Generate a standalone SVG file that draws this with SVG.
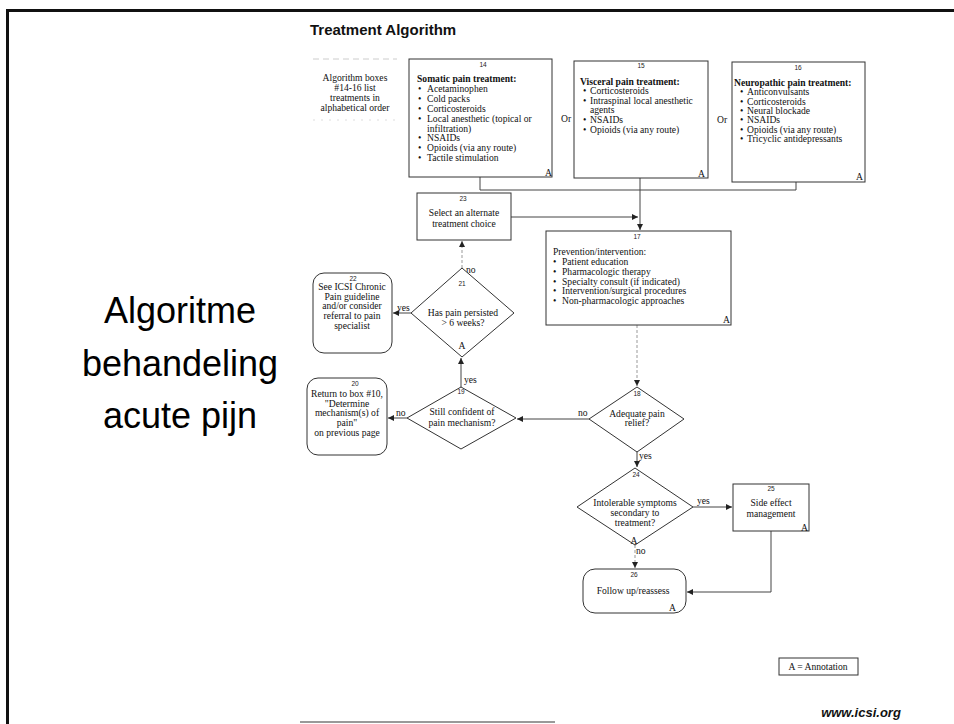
<svg xmlns="http://www.w3.org/2000/svg" width="954" height="724" viewBox="0 0 954 724">
<style>
.box{fill:#fff;stroke:#333;stroke-width:1}
.t{font-family:"Liberation Serif",serif;font-size:9.6px;fill:#111}
.b{font-weight:bold}
.n{font-family:"Liberation Sans",sans-serif;font-size:6.5px;fill:#222;text-anchor:middle}
.c{text-anchor:middle}
.ln{stroke:#444;stroke-width:1;fill:none}
.dl{stroke:#999;stroke-width:1;fill:none;stroke-dasharray:3 2}
.big{font-family:"Liberation Sans",Arial,sans-serif;font-size:36px;fill:#000;text-anchor:middle}
</style>
<defs>
<marker id="ar" viewBox="0 0 6 6" refX="6" refY="3" markerWidth="6" markerHeight="6" markerUnits="userSpaceOnUse" orient="auto">
<path d="M0,0 L6,3 L0,6 z" fill="#222"/>
</marker>
</defs>
<rect width="954" height="724" fill="#fff"/>
<g id="frame">
<line x1="6" y1="10.5" x2="954" y2="10.5" stroke="#111" stroke-width="3"/>
<line x1="7.5" y1="9" x2="7.5" y2="724" stroke="#111" stroke-width="3"/>
<line x1="300" y1="722" x2="555" y2="722" stroke="#777" stroke-width="1.5"/>
<line x1="313" y1="59" x2="397" y2="59" stroke="#ccc" stroke-width="1" stroke-dasharray="6 4"/>
<line x1="313" y1="120" x2="397" y2="120" stroke="#ddd" stroke-width="1" stroke-dasharray="2 6"/>
</g>
<text x="310" y="35" font-family="Liberation Sans,Arial,sans-serif" font-size="15" font-weight="bold" fill="#111">Treatment Algorithm</text>
<g id="side-title">
<text class="big" x="180" y="323">Algoritme</text>
<text class="big" x="180" y="376">behandeling</text>
<text class="big" x="180" y="428">acute pijn</text>
</g>
<g id="note">
<text x="355" y="81" class="t c">Algorithm boxes</text>
<text x="355" y="91" class="t c">#14-16 list</text>
<text x="355" y="101" class="t c">treatments in</text>
<text x="355" y="111" class="t c">alphabetical order</text>
</g>
<g id="connectors">
<path class="ln" d="M480,177 V190 H796 V182"/>
<path class="ln" d="M640,178 V230" marker-end="url(#ar)"/>
<path class="ln" d="M511,217 H638" marker-end="url(#ar)"/>
<path class="dl" d="M637,325 V386" marker-end="url(#ar)"/>
<path class="ln" d="M589,419 H517" marker-end="url(#ar)"/>
<path class="ln" d="M407,418 H388" marker-end="url(#ar)"/>
<path class="ln" d="M461,387 V358" marker-end="url(#ar)"/>
<path class="ln" d="M411,313 H393" marker-end="url(#ar)"/>
<path class="dl" d="M462,268 V241" marker-end="url(#ar)"/>
<path class="ln" d="M637,452 V467" marker-end="url(#ar)"/>
<path class="ln" d="M693,507 H732" marker-end="url(#ar)"/>
<path class="dl" d="M635,545 V568" marker-end="url(#ar)"/>
<path class="ln" d="M771,531 V592 H687" marker-end="url(#ar)"/>
<text class="t" x="578" y="416" font-size="9">no</text>
<text class="t" x="396" y="416" font-size="9">no</text>
<text class="t" x="464" y="383" font-size="9">yes</text>
<text class="t" x="397" y="311" font-size="9">yes</text>
<text class="t" x="466" y="273" font-size="9">no</text>
<text class="t" x="639" y="459" font-size="9">yes</text>
<text class="t" x="697" y="504" font-size="9">yes</text>
<text class="t" x="636" y="554" font-size="9">no</text>
<text class="t" x="561" y="122" font-size="6">Or</text>
<text class="t" x="717" y="123" font-size="6">Or</text>
</g>
<g id="box14">
<rect class="box" x="409" y="59" width="143" height="118"/>
<text class="n" x="483" y="67">14</text>
<text class="t b" x="417" y="82" font-size="10">Somatic pain treatment:</text>
<text class="t" x="418" y="92">•</text><text class="t" x="427" y="92">Acetaminophen</text>
<text class="t" x="418" y="102">•</text><text class="t" x="427" y="102">Cold packs</text>
<text class="t" x="418" y="112">•</text><text class="t" x="427" y="112">Corticosteroids</text>
<text class="t" x="418" y="122">•</text><text class="t" x="427" y="122">Local anesthetic (topical or</text>
<text class="t" x="427" y="132">infiltration)</text>
<text class="t" x="418" y="141">•</text><text class="t" x="427" y="141">NSAIDs</text>
<text class="t" x="418" y="151">•</text><text class="t" x="427" y="151">Opioids (via any route)</text>
<text class="t" x="418" y="161">•</text><text class="t" x="427" y="161">Tactile stimulation</text>
<text class="t" x="545" y="176" font-size="9">A</text>
</g>
<g id="box15">
<rect class="box" x="574" y="61" width="134" height="117"/>
<text class="n" x="641" y="68">15</text>
<text class="t b" x="580" y="85" font-size="10">Visceral pain treatment:</text>
<text class="t" x="583" y="94">•</text><text class="t" x="590" y="94">Corticosteroids</text>
<text class="t" x="583" y="104">•</text><text class="t" x="590" y="104">Intraspinal local anesthetic</text>
<text class="t" x="590" y="113">agents</text>
<text class="t" x="583" y="123">•</text><text class="t" x="590" y="123">NSAIDs</text>
<text class="t" x="583" y="133">•</text><text class="t" x="590" y="133">Opioids (via any route)</text>
<text class="t" x="698" y="177" font-size="9">A</text>
</g>
<g id="box16">
<rect class="box" x="732" y="62" width="133" height="120"/>
<text class="n" x="798" y="70">16</text>
<text class="t b" x="734" y="86" font-size="10">Neuropathic pain treatment:</text>
<text class="t" x="740" y="95">•</text><text class="t" x="747" y="95">Anticonvulsants</text>
<text class="t" x="740" y="105">•</text><text class="t" x="747" y="105">Corticosteroids</text>
<text class="t" x="740" y="114">•</text><text class="t" x="747" y="114">Neural blockade</text>
<text class="t" x="740" y="123">•</text><text class="t" x="747" y="123">NSAIDs</text>
<text class="t" x="740" y="133">•</text><text class="t" x="747" y="133">Opioids (via any route)</text>
<text class="t" x="740" y="142">•</text><text class="t" x="747" y="142">Tricyclic antidepressants</text>
<text class="t" x="856" y="180" font-size="9">A</text>
</g>
<g id="box23">
<rect class="box" x="417" y="193" width="94" height="47"/>
<text class="n" x="463" y="201">23</text>
<text class="t c" x="464" y="216" font-size="10">Select an alternate</text>
<text class="t c" x="464" y="227" font-size="10">treatment choice</text>
</g>
<g id="box17">
<rect class="box" x="546" y="231" width="185" height="94"/>
<text class="n" x="637" y="239">17</text>
<text class="t" x="553" y="255" font-size="9.5">Prevention/intervention:</text>
<text class="t" x="553" y="265" font-size="9.5">•</text><text class="t" x="562" y="265" font-size="9.5">Patient education</text>
<text class="t" x="553" y="275" font-size="9.5">•</text><text class="t" x="562" y="275" font-size="9.5">Pharmacologic therapy</text>
<text class="t" x="553" y="285" font-size="9.5">•</text><text class="t" x="562" y="285" font-size="9.5">Specialty consult (if indicated)</text>
<text class="t" x="553" y="294" font-size="9.5">•</text><text class="t" x="562" y="294" font-size="9.5">Intervention/surgical procedures</text>
<text class="t" x="553" y="304" font-size="9.5">•</text><text class="t" x="562" y="304" font-size="9.5">Non-pharmacologic approaches</text>
<text class="t" x="723" y="323" font-size="9">A</text>
</g>
<g id="box22">
<rect class="box" x="313" y="273" width="79" height="80" rx="11"/>
<text class="n" x="353" y="281">22</text>
<text class="t c" x="352" y="290">See ICSI Chronic</text>
<text class="t c" x="352" y="300">Pain guideline</text>
<text class="t c" x="352" y="309">and/or consider</text>
<text class="t c" x="352" y="319">referral to pain</text>
<text class="t c" x="352" y="329">specialist</text>
</g>
<g id="dia21">
<polygon class="box" points="462,268 514,313 462,357 411,313"/>
<text class="n" x="462" y="286">21</text>
<text class="t c" x="463" y="316" font-size="10">Has pain persisted</text>
<text class="t c" x="463" y="326" font-size="10">&gt; 6 weeks?</text>
<text class="t c" x="462" y="349" font-size="9">A</text>
</g>
<g id="dia19">
<polygon class="box" points="461,387 516,418 461,449 407,418"/>
<text class="n" x="461" y="394">19</text>
<text class="t c" x="462" y="415" font-size="10">Still confident of</text>
<text class="t c" x="462" y="426" font-size="10">pain mechanism?</text>
</g>
<g id="box20">
<rect class="box" x="307" y="378" width="80" height="77" rx="11"/>
<text class="n" x="355" y="386">20</text>
<text class="t c" x="347" y="397">Return to box #10,</text>
<text class="t c" x="347" y="407">"Determine</text>
<text class="t c" x="347" y="416">mechanism(s) of</text>
<text class="t c" x="347" y="426">pain"</text>
<text class="t c" x="347" y="436">on previous page</text>
</g>
<g id="dia18">
<polygon class="box" points="637,387 684,419 637,452 589,419"/>
<text class="n" x="637" y="396">18</text>
<text class="t c" x="637" y="417" font-size="10">Adequate pain</text>
<text class="t c" x="637" y="426" font-size="10">relief?</text>
</g>
<g id="dia24">
<polygon class="box" points="635,468 693,507 635,545 577,507"/>
<text class="n" x="636" y="477">24</text>
<text class="t c" x="635" y="506">Intolerable symptoms</text>
<text class="t c" x="635" y="516">secondary to</text>
<text class="t c" x="635" y="526">treatment?</text>
<text class="t c" x="634" y="544" font-size="9">A</text>
</g>
<g id="box25">
<rect class="box" x="733" y="484" width="76" height="47"/>
<text class="n" x="771" y="491">25</text>
<text class="t c" x="771" y="506" font-size="10">Side effect</text>
<text class="t c" x="771" y="517" font-size="10">management</text>
<text class="t" x="801" y="531" font-size="9">A</text>
</g>
<g id="box26">
<rect class="box" x="583" y="569" width="103" height="44" rx="12"/>
<text class="n" x="634" y="577">26</text>
<text class="t c" x="633" y="594" font-size="10">Follow up/reassess</text>
<text class="t" x="669" y="611" font-size="9">A</text>
</g>
<g id="legend">
<rect class="box" x="779" y="658" width="79" height="17" stroke-width="1.3"/>
<text class="t c" x="818" y="670" font-size="9.5">A = Annotation</text>
</g>
<text x="861" y="717" text-anchor="middle" font-family="Liberation Sans,Arial,sans-serif" font-size="13" font-weight="bold" font-style="italic" fill="#111">www.icsi.org</text>
</svg>
